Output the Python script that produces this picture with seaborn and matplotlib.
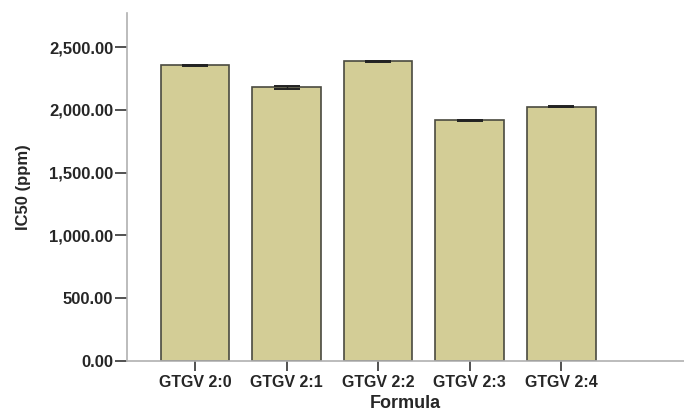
import matplotlib
matplotlib.use("Agg")
import matplotlib.pyplot as plt
import seaborn as sns
import pandas as pd
from matplotlib.ticker import FuncFormatter

formulas = ["GTGV 2:0", "GTGV 2:1", "GTGV 2:2", "GTGV 2:3", "GTGV 2:4"]
ic50 = [2355, 2178, 2388, 1916, 2024]
err = [5, 8, 4, 4, 4]

df = pd.DataFrame({"Formula": formulas, "IC50": ic50})

sns.set_style("white")
plt.rcParams["font.family"] = ["Liberation Sans", "DejaVu Sans"]

fig = plt.figure(figsize=(6.84, 4.12), dpi=100)
ax = fig.add_axes([0.186, 0.124, 0.814, 0.844])

sns.barplot(data=df, x="Formula", y="IC50", color="#D3CD96", saturation=1,
            edgecolor="#4a4a40", linewidth=1.2, width=0.75, errorbar=None, ax=ax)
ax.errorbar(range(len(formulas)), ic50, yerr=err, fmt="none",
            ecolor="#222222", elinewidth=1, capsize=9.5, capthick=1.4)

ax.set_xlim(-0.74, 5.34)
ax.set_ylim(0, 2770)
ax.set_yticks([0, 500, 1000, 1500, 2000, 2500])
ax.yaxis.set_major_formatter(FuncFormatter(lambda v, p: f"{v:,.2f}"))

for side in ["top", "right"]:
    ax.spines[side].set_visible(False)
for side in ["left", "bottom"]:
    ax.spines[side].set_color("#b0b0b0")
    ax.spines[side].set_linewidth(1.2)

ax.tick_params(axis="both", bottom=True, left=True, width=1.2,
               color="#333333", pad=1)
ax.tick_params(axis="y", length=9, labelsize=12)
ax.tick_params(axis="x", length=7, labelsize=11.5, pad=3)
for lab in ax.get_xticklabels() + ax.get_yticklabels():
    lab.set_fontweight("bold")

ax.set_xlabel("Formula", fontsize=13, fontweight="bold", labelpad=4)
ax.set_ylabel("IC50 (ppm)", fontsize=12, fontweight="bold", labelpad=13)

fig.savefig("out.png", dpi=100)
